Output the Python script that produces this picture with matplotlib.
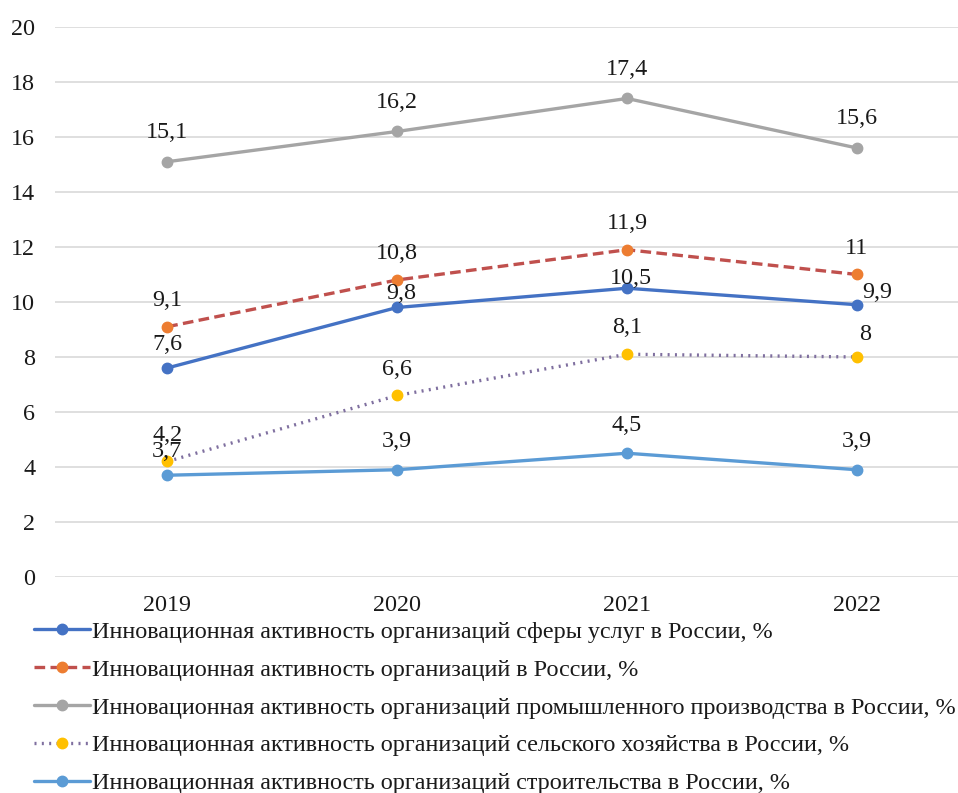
import matplotlib
matplotlib.use("Agg")
import matplotlib.pyplot as plt

plt.rcParams['font.family'] = ['Liberation Serif', 'DejaVu Serif']

years = ["2019", "2020", "2021", "2022"]

services = [7.6, 9.8, 10.5, 9.9]
all_orgs = [9.1, 10.8, 11.9, 11.0]
industry = [15.1, 16.2, 17.4, 15.6]
agriculture = [4.2, 6.6, 8.1, 8.0]
construction = [3.7, 3.9, 4.5, 3.9]

names = [
    "Инновационная активность организаций сферы услуг в России, %",
    "Инновационная активность организаций в России, %",
    "Инновационная активность организаций промышленного производства в России, %",
    "Инновационная активность организаций сельского хозяйства в России, %",
    "Инновационная активность организаций строительства в России, %",
]

series = [services, all_orgs, industry, agriculture, construction]

# line colour, marker colour, line style
styles = [
    ("#4472C4", "#4472C4", "-"),
    ("#C0504D", "#ED7D31", (0, (3.2, 1.6))),
    ("#A5A5A5", "#A5A5A5", "-"),
    ("#7F6F9F", "#FFC000", (0, (0.6, 1.6))),
    ("#5B9BD5", "#5B9BD5", "-"),
]

# label offsets (points) per series and year
label_offsets = [
    [(0, 17), (3, 10), (3, 7), (15, 9)],
    [(0, 19), (0, 19), (0, 19), (0, 19)],
    [(0, 21), (0, 21), (0, 21), (0, 21)],
    [(0, 19), (0, 19), (0, 19), (6, 16)],
    [(0, 17), (0, 20), (0, 20), (0, 20)],
]

TEXT = "#1a1a1a"
FS = 17.4


def fmt(v):
    s = f"{v:g}"
    return s.replace(".", ",")


fig = plt.figure(figsize=(9.58, 7.93), dpi=100)
ax = fig.add_axes([0.057, 0.2724, 0.943, 0.6936])

x = list(range(len(years)))
handles = []
for vals, name, (lc, mc, ls), offs in zip(series, names, styles, label_offsets):
    h, = ax.plot(x, vals, color=lc, linestyle=ls, linewidth=2.4,
                 marker="o", markersize=7.5, markerfacecolor=mc,
                 markeredgecolor=mc, label=name, zorder=3,
                 solid_capstyle="round", dash_capstyle="butt")
    handles.append(h)
    for xi, v, (dx, dy) in zip(x, vals, offs):
        ax.annotate(fmt(v), (xi, v), xytext=(dx, dy), textcoords="offset points",
                    ha="center", va="center", fontsize=FS, color=TEXT,
                    zorder=4)

ax.set_xlim(-0.49, 3.44)
ax.set_ylim(0, 20)
ax.set_yticks(range(0, 21, 2))
ax.set_xticks(x)
ax.set_xticklabels(years)
ax.tick_params(axis="both", length=0, labelsize=FS, labelcolor=TEXT)
ax.tick_params(axis="y", pad=14)
ax.tick_params(axis="x", pad=13)
for sp in ax.spines.values():
    sp.set_visible(False)
ax.yaxis.grid(True, color="#D9D9D9", linewidth=1.2)
ax.set_axisbelow(True)

leg = fig.legend(handles=handles, loc="upper left", bbox_to_anchor=(0.036, 0.217),
                 frameon=False, fontsize=FS, handlelength=2.3, handletextpad=0.1,
                 labelspacing=0.66, borderaxespad=0, borderpad=0)
for t in leg.get_texts():
    t.set_color(TEXT)

fig.savefig("out.png", dpi=100, facecolor="white")
